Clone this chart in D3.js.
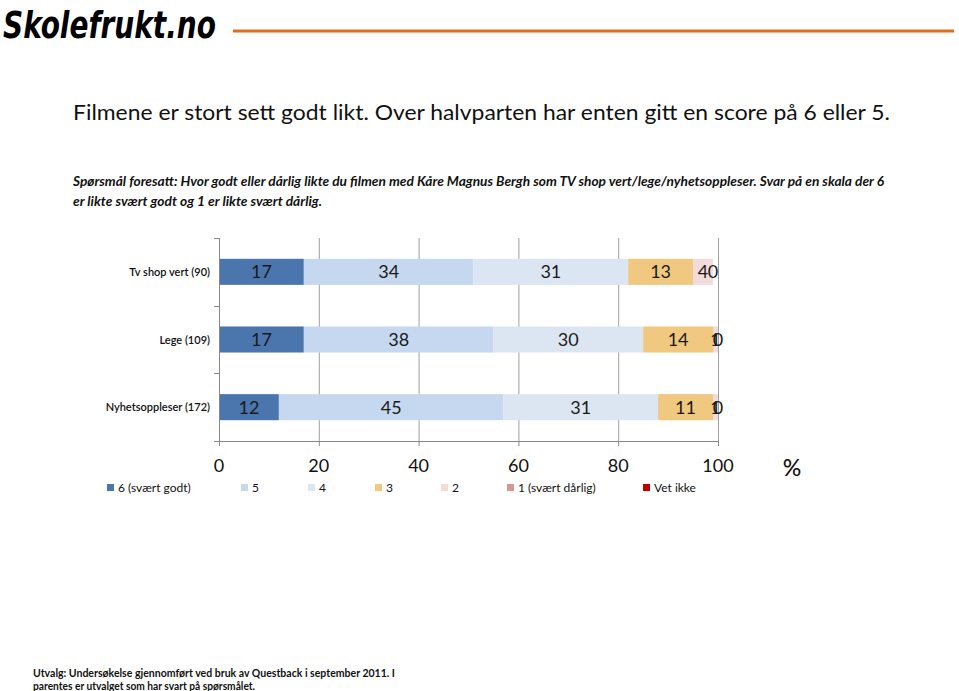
<!DOCTYPE html>
<html>
<head>
<meta charset="utf-8">
<script src="https://cdn.jsdelivr.net/npm/d3@7"></script>
<style>
  html, body { margin: 0; padding: 0; background: #fff; }
  svg { display: block; }
  text { font-family: Lato, "Open Sans", "Noto Sans", sans-serif; fill: #111; }
</style>
</head>
<body>
<svg id="chart" width="959" height="691"></svg>
<script>
// ---- Data ----
const categories = ["Tv shop vert (90)", "Lege (109)", "Nyhetsoppleser (172)"];
const seriesNames = ["6 (svært godt)", "5", "4", "3", "2", "1 (svært dårlig)", "Vet ikke"];
const seriesColors = ["#4a76ad", "#c6d8ef", "#dce6f2", "#f0c87f", "#f2dcdb", "#d99694", "#c00000"];
const s6 = [17, 17, 12];
const s5 = [34, 38, 45];
const s4 = [31, 30, 31];
const s3 = [13, 14, 11];
const s2 = [4, 1, 1];
const s1 = [0, 0, 0];
const vetIkke = [null, null, null];
const xTicks = [0, 20, 40, 60, 80, 100];

const seriesValues = [s6, s5, s4, s3, s2, s1, vetIkke];

// ---- Setup ----
const svg = d3.select("#chart");

// Logo
svg.append("text")
  .attr("x", 3).attr("y", 38)
  .attr("textLength", 213).attr("lengthAdjust", "spacingAndGlyphs")
  .style("font-family", "'DejaVu Sans Condensed', 'DejaVu Sans', sans-serif")
  .style("font-weight", "bold").style("font-style", "italic")
  .style("font-size", "38px").style("fill", "#000")
  .text("Skolefrukt.no");
svg.append("line")
  .attr("x1", 233).attr("x2", 954).attr("y1", 31).attr("y2", 31)
  .attr("stroke", "#e36c1e").attr("stroke-width", 3);

// Title
svg.append("text")
  .attr("x", 73).attr("y", 120)
  .attr("textLength", 817).attr("lengthAdjust", "spacingAndGlyphs")
  .style("font-size", "22px")
  .text("Filmene er stort sett godt likt. Over halvparten har enten gitt en score på 6 eller 5.");

// Subtitle
svg.append("text")
  .attr("x", 73).attr("y", 186)
  .attr("textLength", 811).attr("lengthAdjust", "spacingAndGlyphs")
  .style("font-size", "13px").style("font-weight", "bold").style("font-style", "italic")
  .text("Spørsmål  foresatt: Hvor godt eller dårlig likte du filmen med Kåre Magnus Bergh som TV shop vert/lege/nyhetsoppleser. Svar på en skala der 6");
svg.append("text")
  .attr("x", 73).attr("y", 206)
  .attr("textLength", 249).attr("lengthAdjust", "spacingAndGlyphs")
  .style("font-size", "13px").style("font-weight", "bold").style("font-style", "italic")
  .text("er likte svært godt og 1 er likte svært dårlig.");

// Scales
const x = d3.scaleLinear().domain([0, 100]).range([219, 718]);
const y = d3.scaleBand().domain(categories).range([238, 441]).padding(0);
const barH = y.bandwidth() * 0.385;

// Gridlines
svg.append("g").selectAll("line")
  .data(xTicks.filter(d => d > 0))
  .join("line")
  .attr("x1", d => x(d) + 0.5).attr("x2", d => x(d) + 0.5)
  .attr("y1", 238).attr("y2", 441)
  .attr("stroke", "#a0a0a0").attr("stroke-width", 1);

// Stacked data
const stackData = categories.map((c, i) => {
  const o = { cat: c };
  seriesNames.forEach((s, j) => { o[s] = seriesValues[j][i] == null ? 0 : seriesValues[j][i]; });
  return o;
});
const stack = d3.stack().keys(seriesNames);
const layers = stack(stackData);

const gBars = svg.append("g");
layers.forEach((layer, j) => {
  gBars.append("g").attr("fill", seriesColors[j])
    .selectAll("rect").data(layer).join("rect")
    .attr("x", d => x(d[0]))
    .attr("width", d => Math.max(0, x(d[1]) - x(d[0])))
    .attr("y", d => y(d.data.cat) + (y.bandwidth() - barH) / 2)
    .attr("height", barH);
});

// Labels
layers.forEach((layer, j) => {
  gBars.append("g").selectAll("text")
    .data(layer.map((d, i) => ({ d, v: seriesValues[j][i] })).filter(o => o.v != null))
    .join("text")
    .attr("x", o => x((o.d[0] + o.d[1]) / 2))
    .attr("y", o => y(o.d.data.cat) + y.bandwidth() / 2 + 6.5)
    .attr("text-anchor", "middle")
    .style("font-size", "18px").style("fill", "#1a1a1a")
    .text(o => o.v);
});

// Y axis
const axisColor = "#888";
svg.append("line").attr("x1", 219.5).attr("x2", 219.5).attr("y1", 238).attr("y2", 441)
  .attr("stroke", axisColor);
const yBounds = [238, ...categories.map(c => y(c) + y.bandwidth())];
svg.append("g").selectAll("line").data(yBounds).join("line")
  .attr("x1", 214).attr("x2", 219).attr("y1", d => Math.round(d) + 0.5).attr("y2", d => Math.round(d) + 0.5)
  .attr("stroke", axisColor);
svg.append("g").selectAll("text").data(categories).join("text")
  .attr("x", 210).attr("y", d => y(d) + y.bandwidth() / 2 + 4)
  .attr("text-anchor", "end")
  .style("font-size", "11px").style("font-weight", "600")
  .text(d => d);

// X axis
svg.append("line").attr("x1", 214).attr("x2", 718).attr("y1", 441.5).attr("y2", 441.5)
  .attr("stroke", axisColor);
svg.append("g").selectAll("line").data(xTicks).join("line")
  .attr("x1", d => x(d) + 0.5).attr("x2", d => x(d) + 0.5).attr("y1", 441).attr("y2", 446)
  .attr("stroke", axisColor);
svg.append("g").selectAll("text").data(xTicks).join("text")
  .attr("x", d => x(d)).attr("y", 472)
  .attr("text-anchor", "middle")
  .style("font-size", "18px")
  .text(d => d);
svg.append("text").attr("x", 792).attr("y", 476).attr("text-anchor", "middle")
  .style("font-size", "23px").style("font-weight", "500")
  .text("%");

// Legend
const legendX = [107, 241, 308, 375, 441, 507, 643];
const lg = svg.append("g").selectAll("g").data(seriesNames).join("g")
  .attr("transform", (d, i) => `translate(${legendX[i]},484)`);
lg.append("rect").attr("width", 7).attr("height", 7).attr("fill", (d, i) => seriesColors[i]);
lg.append("text").attr("x", 11).attr("y", 8).style("font-size", "12px").text(d => d);

// Footer
svg.append("text").attr("x", 33).attr("y", 677)
  .attr("textLength", 362).attr("lengthAdjust", "spacingAndGlyphs")
  .style("font-size", "11px").style("font-weight", "bold")
  .text("Utvalg: Undersøkelse gjennomført ved bruk av Questback i september 2011. I");
svg.append("text").attr("x", 33).attr("y", 690)
  .attr("textLength", 222).attr("lengthAdjust", "spacingAndGlyphs")
  .style("font-size", "11px").style("font-weight", "bold")
  .text("parentes er utvalget som har svart på spørsmålet.");
</script>
</body>
</html>
